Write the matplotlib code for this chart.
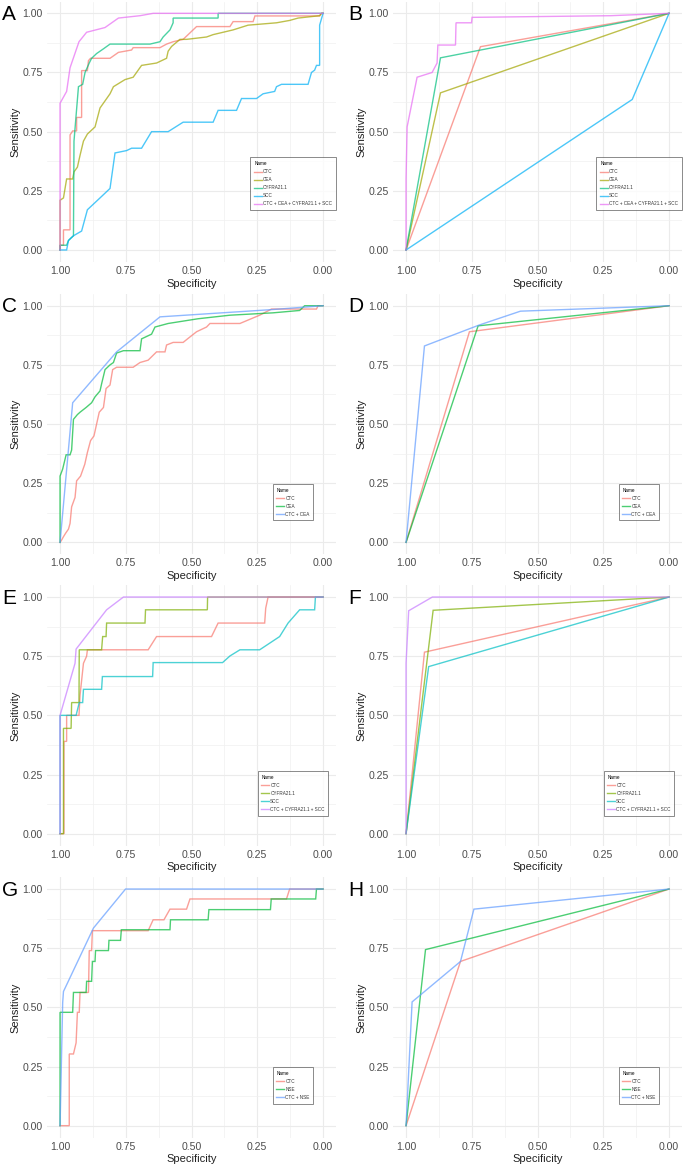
import matplotlib
matplotlib.use("Agg")
import matplotlib.pyplot as plt
from matplotlib.ticker import MultipleLocator

plt.rcParams["font.family"] = ["Liberation Sans", "DejaVu Sans"]

# ============================================================
# Data: ROC curves as (specificity, sensitivity) points
# ============================================================
# Panel A (continuous markers)
A_CTC = [(1.00, 0.00), (1.00, 0.02), (0.987, 0.02), (0.987, 0.085), (0.962, 0.085),
         (0.962, 0.486), (0.952, 0.503), (0.937, 0.503), (0.937, 0.56), (0.918, 0.56),
         (0.918, 0.758), (0.896, 0.758), (0.892, 0.80), (0.884, 0.81), (0.810, 0.81),
         (0.778, 0.835), (0.728, 0.845), (0.722, 0.855), (0.620, 0.855), (0.595, 0.87),
         (0.570, 0.88), (0.532, 0.89), (0.513, 0.91), (0.481, 0.944), (0.354, 0.944),
         (0.342, 0.965), (0.266, 0.965), (0.259, 0.989), (0.013, 0.989), (0.006, 1.0),
         (0.00, 1.00)]
A_CEA = [(1.00, 0.00), (1.00, 0.21), (0.987, 0.22), (0.975, 0.30), (0.952, 0.30),
         (0.947, 0.33), (0.934, 0.35), (0.924, 0.40), (0.911, 0.46), (0.896, 0.49),
         (0.867, 0.52), (0.848, 0.60), (0.81, 0.66), (0.797, 0.69), (0.753, 0.72),
         (0.722, 0.73), (0.69, 0.78), (0.633, 0.79), (0.595, 0.81), (0.589, 0.84),
         (0.576, 0.86), (0.544, 0.89), (0.519, 0.89), (0.443, 0.90), (0.418, 0.91),
         (0.342, 0.93), (0.285, 0.95), (0.177, 0.96), (0.127, 0.97), (0.095, 0.98),
         (0.013, 0.99), (0.006, 1.00), (0.00, 1.00)]
A_CYFRA = [(1.00, 0.00), (1.00, 0.02), (0.975, 0.02), (0.968, 0.04), (0.959, 0.05),
           (0.949, 0.06), (0.947, 0.46), (0.930, 0.69), (0.914, 0.70), (0.905, 0.75),
           (0.889, 0.79), (0.880, 0.81), (0.861, 0.83), (0.835, 0.85), (0.810, 0.87),
           (0.658, 0.87), (0.620, 0.88), (0.608, 0.90), (0.582, 0.93), (0.570, 0.96),
           (0.570, 0.98), (0.399, 0.98), (0.399, 1.00), (0.00, 1.00)]
A_SCC = [(1.00, 0.00), (0.975, 0.00), (0.968, 0.04), (0.949, 0.06), (0.918, 0.08),
         (0.896, 0.17), (0.848, 0.22), (0.810, 0.26), (0.791, 0.41), (0.747, 0.42),
         (0.728, 0.43), (0.690, 0.43), (0.652, 0.50), (0.589, 0.50), (0.532, 0.54),
         (0.418, 0.54), (0.399, 0.59), (0.329, 0.59), (0.310, 0.64), (0.253, 0.64),
         (0.228, 0.66), (0.184, 0.67), (0.177, 0.69), (0.158, 0.70), (0.057, 0.70),
         (0.044, 0.75), (0.032, 0.76), (0.025, 0.78), (0.013, 0.78), (0.013, 0.95),
         (0.00, 1.00)]
A_ALL = [(1.00, 0.00), (1.00, 0.62), (0.975, 0.67), (0.962, 0.77), (0.928, 0.88),
         (0.899, 0.92), (0.829, 0.94), (0.778, 0.98), (0.696, 0.99), (0.646, 1.00),
         (0.00, 1.00)]

# Panel B (binary markers)
B_CTC = [(1.00, 0.00), (0.717, 0.859), (0.00, 1.00)]
B_CEA = [(1.00, 0.00), (0.869, 0.664), (0.00, 1.00)]
B_CYFRA = [(1.00, 0.00), (0.869, 0.812), (0.00, 1.00)]
B_SCC = [(1.00, 0.00), (0.140, 0.636), (0.00, 1.00)]
B_ALL = [(1.00, 0.00), (1.00, 0.30), (0.996, 0.52), (0.958, 0.73), (0.901, 0.75),
         (0.882, 0.79), (0.879, 0.866), (0.812, 0.866), (0.810, 0.96), (0.751, 0.96),
         (0.749, 0.983), (0.222, 0.99), (0.00, 1.00)]

# Panel C
C_CTC = [(1.00, 0.00), (0.994, 0.01), (0.987, 0.024), (0.978, 0.04), (0.968, 0.056),
         (0.962, 0.08), (0.956, 0.15), (0.943, 0.19), (0.937, 0.26), (0.922, 0.28),
         (0.906, 0.33), (0.896, 0.38), (0.884, 0.43), (0.871, 0.45), (0.861, 0.50),
         (0.851, 0.55), (0.835, 0.57), (0.825, 0.65), (0.810, 0.665), (0.800, 0.73),
         (0.785, 0.74), (0.722, 0.74), (0.696, 0.76), (0.665, 0.77), (0.633, 0.805),
         (0.601, 0.805), (0.595, 0.834), (0.570, 0.845), (0.532, 0.845), (0.513, 0.862),
         (0.481, 0.89), (0.443, 0.91), (0.430, 0.925), (0.316, 0.925), (0.284, 0.94),
         (0.241, 0.96), (0.196, 0.986), (0.025, 0.986), (0.019, 1.00), (0.00, 1.00)]
C_CEA = [(1.00, 0.00), (1.00, 0.28), (0.990, 0.31), (0.977, 0.37), (0.962, 0.37),
         (0.956, 0.39), (0.949, 0.52), (0.934, 0.54), (0.924, 0.55), (0.901, 0.57),
         (0.880, 0.59), (0.867, 0.615), (0.848, 0.64), (0.842, 0.67), (0.829, 0.73),
         (0.810, 0.75), (0.797, 0.76), (0.785, 0.80), (0.759, 0.81), (0.696, 0.81),
         (0.690, 0.86), (0.652, 0.88), (0.639, 0.91), (0.589, 0.925), (0.475, 0.945),
         (0.354, 0.96), (0.190, 0.97), (0.089, 0.98), (0.070, 1.00), (0.00, 1.00)]
C_ALL = [(1.00, 0.00), (0.952, 0.59), (0.785, 0.805), (0.620, 0.953), (0.190, 0.984),
         (0.00, 1.00)]

# Panel D
D_CTC = [(1.00, 0.00), (0.759, 0.89), (0.00, 1.00)]
D_CEA = [(1.00, 0.00), (0.726, 0.915), (0.00, 1.00)]
D_ALL = [(1.00, 0.00), (0.930, 0.83), (0.723, 0.918), (0.565, 0.977), (0.00, 1.00)]

# Panel E
E_CTC = [(1.00, 0.00), (0.985, 0.00), (0.985, 0.39), (0.975, 0.39), (0.975, 0.50),
         (0.928, 0.50), (0.924, 0.585), (0.911, 0.72), (0.899, 0.75), (0.896, 0.777),
         (0.665, 0.777), (0.633, 0.833), (0.424, 0.833), (0.399, 0.89), (0.222, 0.89),
         (0.218, 0.953), (0.209, 1.00), (0.00, 1.00)]
E_CYFRA = [(1.00, 0.00), (0.987, 0.00), (0.987, 0.445), (0.958, 0.445), (0.956, 0.554),
           (0.928, 0.554), (0.927, 0.777), (0.842, 0.777), (0.838, 0.833), (0.825, 0.833),
           (0.823, 0.89), (0.677, 0.89), (0.675, 0.946), (0.440, 0.946), (0.439, 1.00),
           (0.00, 1.00)]
E_SCC = [(1.00, 0.00), (1.00, 0.50), (0.939, 0.50), (0.927, 0.554), (0.914, 0.554),
         (0.911, 0.61), (0.842, 0.61), (0.839, 0.664), (0.648, 0.664), (0.646, 0.723),
         (0.382, 0.723), (0.354, 0.751), (0.316, 0.777), (0.241, 0.777), (0.203, 0.805),
         (0.165, 0.833), (0.133, 0.89), (0.089, 0.946), (0.032, 0.946), (0.029, 1.00),
         (0.00, 1.00)]
E_ALL = [(1.00, 0.00), (1.00, 0.50), (0.943, 0.72), (0.939, 0.78), (0.823, 0.946),
         (0.759, 1.00), (0.00, 1.00)]

# Panel F
F_CTC = [(1.00, 0.00), (0.930, 0.767), (0.00, 1.00)]
F_CYFRA = [(1.00, 0.00), (0.897, 0.944), (0.00, 1.00)]
F_SCC = [(1.00, 0.00), (0.914, 0.706), (0.00, 1.00)]
F_ALL = [(1.00, 0.00), (1.00, 0.72), (0.990, 0.942), (0.900, 1.00), (0.00, 1.00)]

# Panel G
G_CTC = [(1.00, 0.00), (0.965, 0.00), (0.965, 0.303), (0.949, 0.303), (0.939, 0.35),
         (0.934, 0.479), (0.927, 0.479), (0.924, 0.563), (0.892, 0.563), (0.889, 0.74),
         (0.880, 0.74), (0.877, 0.824), (0.665, 0.824), (0.646, 0.87), (0.605, 0.87),
         (0.582, 0.915), (0.519, 0.915), (0.506, 0.958), (0.139, 0.958), (0.127, 1.00),
         (0.00, 1.00)]
G_NSE = [(1.00, 0.00), (1.00, 0.479), (0.952, 0.479), (0.949, 0.563), (0.901, 0.563),
         (0.899, 0.61), (0.880, 0.61), (0.877, 0.694), (0.867, 0.694), (0.865, 0.74),
         (0.816, 0.74), (0.814, 0.783), (0.770, 0.783), (0.767, 0.828), (0.582, 0.828),
         (0.580, 0.87), (0.437, 0.87), (0.434, 0.913), (0.200, 0.913), (0.197, 0.958),
         (0.028, 0.958), (0.025, 1.00), (0.00, 1.00)]
G_ALL = [(1.00, 0.00), (0.990, 0.52), (0.987, 0.567), (0.873, 0.835), (0.751, 1.00),
         (0.00, 1.00)]

# Panel H
H_CTC = [(1.00, 0.00), (0.793, 0.694), (0.00, 1.00)]
H_NSE = [(1.00, 0.00), (0.926, 0.744), (0.00, 1.00)]
H_ALL = [(1.00, 0.00), (0.977, 0.523), (0.793, 0.694), (0.742, 0.915), (0.00, 1.00)]

# ============================================================
# Palettes (ggplot2 hue)
# ============================================================
HUE5 = ["#F8766D", "#A3A500", "#00BF7D", "#00B0F6", "#E76BF3"]
HUE4 = ["#F8766D", "#7CAE00", "#00BFC4", "#C77CFF"]
HUE3 = ["#F8766D", "#00BA38", "#619CFF"]

panels = [
    ("A", [A_CTC, A_CEA, A_CYFRA, A_SCC, A_ALL],
     ["CTC", "CEA", "CYFRA21.1", "SCC", "CTC + CEA + CYFRA21.1 + SCC"], HUE5),
    ("B", [B_CTC, B_CEA, B_CYFRA, B_SCC, B_ALL],
     ["CTC", "CEA", "CYFRA21.1", "SCC", "CTC + CEA + CYFRA21.1 + SCC"], HUE5),
    ("C", [C_CTC, C_CEA, C_ALL], ["CTC", "CEA", "CTC + CEA"], HUE3),
    ("D", [D_CTC, D_CEA, D_ALL], ["CTC", "CEA", "CTC + CEA"], HUE3),
    ("E", [E_CTC, E_CYFRA, E_SCC, E_ALL],
     ["CTC", "CYFRA21.1", "SCC", "CTC + CYFRA21.1 + SCC"], HUE4),
    ("F", [F_CTC, F_CYFRA, F_SCC, F_ALL],
     ["CTC", "CYFRA21.1", "SCC", "CTC + CYFRA21.1 + SCC"], HUE4),
    ("G", [G_CTC, G_NSE, G_ALL], ["CTC", "NSE", "CTC + NSE"], HUE3),
    ("H", [H_CTC, H_NSE, H_ALL], ["CTC", "NSE", "CTC + NSE"], HUE3),
]

# ============================================================
# Layout (pixel boxes)
# ============================================================
W, H = 688, 1164
fig = plt.figure(figsize=(W / 100, H / 100), dpi=100, facecolor="white")

col_left = [46.9, 392.9]
col_w = 289.3
row_top = [1.5, 293.9, 585.2, 877.2]
row_h = 260.3
legend_y = [0.30, 0.20, 0.20, 0.20]

for i, (letter, series, names, cols) in enumerate(panels):
    r, c = divmod(i, 2)
    l = col_left[c] / W
    b = 1 - (row_top[r] + row_h) / H
    ax = fig.add_axes([l, b, col_w / W, row_h / H])

    for pts, name, col in zip(series, names, cols):
        xs = [p[0] for p in pts]
        ys = [p[1] for p in pts]
        ax.plot(xs, ys, color=col, lw=1.0, alpha=0.7, label=name,
                solid_joinstyle="miter")

    ax.set_xlim(1.05, -0.05)
    ax.set_ylim(-0.05, 1.05)
    ax.xaxis.set_major_locator(MultipleLocator(0.25))
    ax.yaxis.set_major_locator(MultipleLocator(0.25))
    ax.xaxis.set_minor_locator(MultipleLocator(0.125))
    ax.yaxis.set_minor_locator(MultipleLocator(0.125))
    ax.xaxis.set_major_formatter(lambda v, p: f"{v:.2f}")
    ax.yaxis.set_major_formatter(lambda v, p: f"{v:.2f}")
    ax.grid(which="major", color="#EBEBEB", lw=0.8)
    ax.grid(which="minor", color="#F0F0F0", lw=0.5)
    ax.set_axisbelow(True)
    for s in ax.spines.values():
        s.set_visible(False)
    ax.tick_params(which="both", length=0, labelsize=7.6, labelcolor="#4D4D4D")
    ax.tick_params(axis="x", pad=3)
    ax.tick_params(axis="y", pad=3)
    ax.set_xlabel("Specificity", fontsize=8, color="#222222", labelpad=2)
    ax.set_ylabel("Sensitivity", fontsize=8, color="#222222", labelpad=1)

    fig.text((col_left[c] - 45) / W, 1 - (row_top[r] + 13) / H, letter,
             fontsize=15, va="center", ha="left", color="black")

    leg = ax.legend(title="Name", loc="center",
                    bbox_to_anchor=(0.851, legend_y[r]), fontsize=3.35,
                    title_fontsize=3.35, frameon=True, fancybox=False,
                    handlelength=1.6, handletextpad=0.3, labelspacing=0.65,
                    borderpad=0.8, borderaxespad=0, alignment="left")
    leg.get_frame().set_edgecolor("#555555")
    leg.get_frame().set_linewidth(0.6)
    for t in leg.get_texts():
        t.set_color("#333333")

fig.savefig("out.png", dpi=100, facecolor="white")
